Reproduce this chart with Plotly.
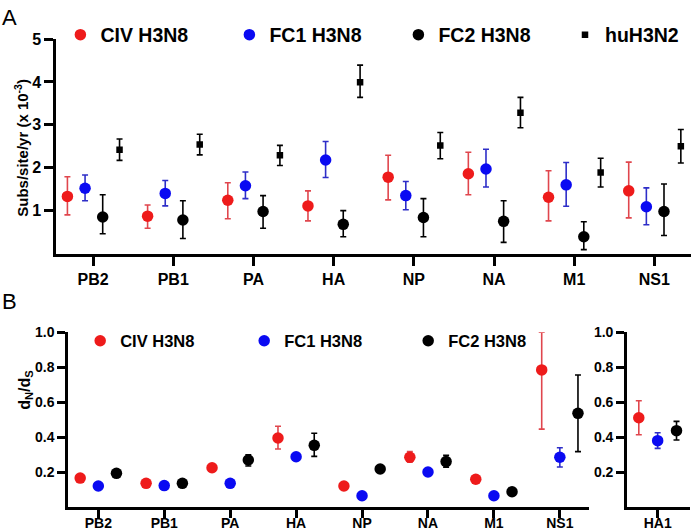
import plotly.graph_objects as go

# ---------------- data ----------------
genes = ["PB2", "PB1", "PA", "HA", "NP", "NA", "M1", "NS1"]
genes_b2 = ["HA1"]
series_names = ["CIV H3N8", "FC1 H3N8", "FC2 H3N8", "huH3N2"]

# Panel A: substitution rate (x 10^-3 subs/site/yr), centre and 95% interval
civ_rate = [1.33, 0.87, 1.24, 1.11, 1.78, 1.86, 1.31, 1.46]
civ_rate_lo = [0.90, 0.59, 0.81, 0.76, 1.25, 1.37, 0.76, 0.83]
civ_rate_hi = [1.79, 1.13, 1.65, 1.46, 2.29, 2.36, 1.93, 2.13]
fc1_rate = [1.52, 1.40, 1.58, 2.18, 1.35, 1.97, 1.60, 1.09]
fc1_rate_lo = [1.23, 1.11, 1.28, 1.77, 1.02, 1.55, 1.10, 0.67]
fc1_rate_hi = [1.83, 1.70, 1.90, 2.61, 1.68, 2.43, 2.12, 1.53]
fc2_rate = [0.85, 0.78, 0.98, 0.68, 0.84, 0.75, 0.39, 0.98]
fc2_rate_lo = [0.46, 0.35, 0.59, 0.39, 0.39, 0.26, 0.09, 0.42]
fc2_rate_hi = [1.37, 1.23, 1.35, 1.00, 1.28, 1.23, 0.74, 1.62]
hu_rate = [2.42, 2.54, 2.29, 3.99, 2.52, 3.28, 1.89, 2.50]
hu_rate_lo = [2.17, 2.30, 2.05, 3.64, 2.21, 2.93, 1.55, 2.11]
hu_rate_hi = [2.67, 2.78, 2.52, 4.39, 2.82, 3.64, 2.22, 2.89]

# Panel B: dN/dS
civ_dnds = [0.167, 0.137, 0.226, 0.396, 0.122, 0.286, 0.160, 0.785]
civ_dnds_lo = [0.167, 0.137, 0.226, 0.333, 0.122, 0.258, 0.160, 0.447]
civ_dnds_hi = [0.167, 0.137, 0.226, 0.463, 0.122, 0.318, 0.160, 1.000]
fc1_dnds = [0.122, 0.124, 0.137, 0.289, 0.066, 0.202, 0.066, 0.286]
fc1_dnds_lo = [0.122, 0.124, 0.137, 0.270, 0.066, 0.202, 0.066, 0.230]
fc1_dnds_hi = [0.122, 0.124, 0.137, 0.310, 0.066, 0.202, 0.066, 0.340]
fc2_dnds = [0.194, 0.137, 0.270, 0.354, 0.219, 0.261, 0.089, 0.537]
fc2_dnds_lo = [0.194, 0.137, 0.236, 0.291, 0.205, 0.229, 0.089, 0.318]
fc2_dnds_hi = [0.194, 0.137, 0.300, 0.423, 0.233, 0.297, 0.089, 0.756]

ha1_dnds = [0.512, 0.381, 0.438]
ha1_dnds_lo = [0.415, 0.337, 0.385]
ha1_dnds_hi = [0.609, 0.426, 0.491]

ticks_a = [1, 2, 3, 4, 5]
ticks_b = [0.2, 0.4, 0.6, 0.8, 1.0]

# ---------------- style ----------------
FONT = "Liberation Sans, Arial, sans-serif"
RED, RED_E = "#ee1b1b", "#e0464d"
BLUE, BLUE_E = "#0a0af2", "#2e2ec8"
BLACK = "#000000"
colors = [(RED, RED_E), (BLUE, BLUE_E), (BLACK, BLACK), (BLACK, BLACK)]
offs_a = [-0.32, -0.10, 0.12, 0.33]
offs_b = [-0.275, 0.0, 0.275]
offs_c = [-0.30, 0.0, 0.30]

W, H = 700, 531


def px_x(p):
    return p / W


def px_y(p):
    return 1 - p / H


fig = go.Figure()


def add_series(xs, y, lo, hi, name, col, ecol, symbol, size, xa, ya, legend, showlegend):
    fig.add_trace(go.Scatter(
        x=xs, y=y, mode="markers", name=name,
        marker=dict(color=col, size=size, symbol=symbol, line=dict(width=0)),
        error_y=dict(type="data", symmetric=False,
                     array=[h - c for h, c in zip(hi, y)],
                     arrayminus=[c - l for c, l in zip(y, lo)],
                     color=ecol, thickness=1.6, width=3),
        xaxis=xa, yaxis=ya, legend=legend, showlegend=showlegend,
    ))


idx = list(range(len(genes)))
a_sets = [(civ_rate, civ_rate_lo, civ_rate_hi),
          (fc1_rate, fc1_rate_lo, fc1_rate_hi),
          (fc2_rate, fc2_rate_lo, fc2_rate_hi),
          (hu_rate, hu_rate_lo, hu_rate_hi)]
for k, (v, lo, hi) in enumerate(a_sets):
    sym = "square" if k == 3 else "circle"
    sz = 6.5 if k == 3 else 11.5
    add_series([i + offs_a[k] for i in idx], v, lo, hi, series_names[k],
               colors[k][0], colors[k][1], sym, sz, "x", "y",
               "legend3" if k == 3 else "legend", True)

b_sets = [(civ_dnds, civ_dnds_lo, civ_dnds_hi),
          (fc1_dnds, fc1_dnds_lo, fc1_dnds_hi),
          (fc2_dnds, fc2_dnds_lo, fc2_dnds_hi)]
for k, (v, lo, hi) in enumerate(b_sets):
    add_series([i + offs_b[k] for i in idx], v, lo, hi, series_names[k],
               colors[k][0], colors[k][1], "circle", 11.5, "x2", "y2", "legend2", True)

for k in range(3):
    add_series([offs_c[k]], [ha1_dnds[k]], [ha1_dnds_lo[k]], [ha1_dnds_hi[k]],
               series_names[k], colors[k][0], colors[k][1], "circle", 11.5,
               "x3", "y3", "legend2", False)

axis_common = dict(showline=True, linecolor="black", linewidth=3, ticks="outside",
                   tickcolor="black", tickwidth=3, showgrid=False, zeroline=False,
                   fixedrange=True, automargin=False)

legend_common = dict(orientation="h", xanchor="left", yanchor="middle",
                     bgcolor="rgba(0,0,0,0)", itemclick=False, itemdoubleclick=False)

fig.update_layout(
    template="none",
    width=W, height=H, autosize=False,
    margin=dict(l=0, r=0, t=0, b=0, pad=0),
    paper_bgcolor="white", plot_bgcolor="white",
    font=dict(family=FONT, color="black"),
    xaxis=dict(domain=[px_x(57), px_x(698)], range=[-0.457, 7.457], anchor="y",
               tickvals=idx, ticktext=genes, ticklen=9,
               tickfont=dict(size=16, family=FONT, weight="bold"), **axis_common),
    yaxis=dict(domain=[px_y(253.5), px_y(39)], range=[0, 5], anchor="x",
               tickvals=ticks_a, ticklen=9,
               tickfont=dict(size=16, family=FONT, weight="bold"), **axis_common),
    xaxis2=dict(domain=[px_x(69), px_x(595)], range=[-0.455, 7.443], anchor="y2",
                tickvals=idx, ticktext=genes, ticklen=8, ticklabelstandoff=-7,
                tickfont=dict(size=14, family=FONT, weight="bold"), **axis_common),
    yaxis2=dict(domain=[px_y(507.3), px_y(332.3)], range=[0, 1.0], anchor="x2",
                tickvals=ticks_b, ticktext=[f"{t:.1f}" for t in ticks_b], ticklen=8,
                tickfont=dict(size=14, family=FONT, weight="bold"), **axis_common),
    xaxis3=dict(domain=[px_x(633.5), px_x(697)], range=[-0.485, 0.515], anchor="y3",
                tickvals=[0], ticktext=genes_b2, ticklen=8, ticklabelstandoff=-7,
                tickfont=dict(size=14, family=FONT, weight="bold"), **axis_common),
    yaxis3=dict(domain=[px_y(507.3), px_y(332.3)], range=[0, 1.0], anchor="x3",
                tickvals=ticks_b, ticktext=[f"{t:.1f}" for t in ticks_b], ticklen=8,
                tickfont=dict(size=14, family=FONT, weight="bold"), **axis_common),
    legend=dict(x=px_x(61), y=px_y(35), entrywidth=124, entrywidthmode="pixels",
                font=dict(size=19.5, family=FONT, weight="bold"), **legend_common),
    legend3=dict(x=px_x(571), y=px_y(35), entrywidth=90, entrywidthmode="pixels",
                 font=dict(size=19.5, family=FONT, weight="bold"), **legend_common),
    legend2=dict(x=px_x(81), y=px_y(341), entrywidth=119, entrywidthmode="pixels",
                 font=dict(size=16.5, family=FONT, weight="bold"), **legend_common),
    annotations=[
        dict(text="A", x=0, y=px_y(3), xref="paper", yref="paper", xanchor="left",
             yanchor="top", showarrow=False, font=dict(size=22, family=FONT)),
        dict(text="B", x=0, y=px_y(287), xref="paper", yref="paper", xanchor="left",
             yanchor="top", showarrow=False, font=dict(size=22, family=FONT)),
        dict(text="Subs/site/yr (x 10<sup>-3</sup>)", x=px_x(21), y=px_y(148),
             xref="paper", yref="paper", textangle=-90, showarrow=False,
             xanchor="center", yanchor="middle",
             font=dict(size=15, family=FONT, weight="bold")),
        dict(text="d<sub>N</sub>/d<sub>S</sub>", x=px_x(25), y=px_y(390),
             xref="paper", yref="paper", textangle=-90, showarrow=False,
             xanchor="center", yanchor="middle",
             font=dict(size=16, family=FONT, weight="bold")),
    ],
)

fig.write_html("out.html", config={"displayModeBar": False},
               post_script="document.body.style.margin='0px';")
